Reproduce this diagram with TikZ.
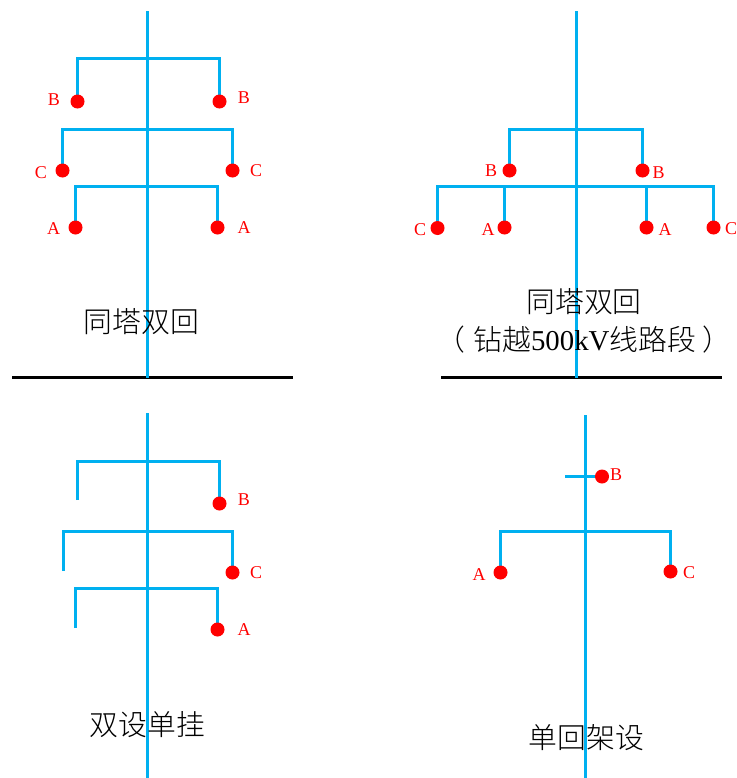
\documentclass[tikz,border=0pt]{standalone}
\usepackage{fontspec}
\setmainfont{Liberation Serif}
\newfontfamily\cjk{Noto Sans CJK SC Light}
\usetikzlibrary{backgrounds}
\definecolor{tower}{RGB}{0,176,240}
\tikzset{x=0.75pt,y=-0.75pt,
 arm/.style={draw=tower,line width=2.25pt},
 gnd/.style={draw=black,line width=2.25pt},
 dot/.style={circle,fill=red,inner sep=0pt,minimum size=10.5pt},
 lab/.style={text=red,font=\fontsize{13.5}{13.5}\selectfont,inner sep=0pt},
 captext/.style={font=\fontsize{21.6}{24}\selectfont\cjk,inner sep=0pt,align=center,text=black}}
\begin{document}
\begin{tikzpicture}
\useasboundingbox (0,0) rectangle (736,778);
% top-left
\coordinate (t1a) at (147.5,11); \coordinate (t1b) at (147.5,378);
\coordinate (g1a) at (12,377.5); \coordinate (g1b) at (293,377.5);
\node[dot] (b1l) at (77.5,101.5) {}; \node[dot] (b1r) at (219.5,101.5) {};
\node[dot] (c1l) at (62.5,170.5) {}; \node[dot] (c1r) at (232.5,170.5) {};
\node[dot] (a1l) at (75.5,227.5) {}; \node[dot] (a1r) at (217.5,227.5) {};
\node[lab] at (54,100) {B}; \node[lab] at (244,98) {B};
\node[lab] at (41,173) {C}; \node[lab] at (256,171) {C};
\node[lab] at (53.5,229) {A}; \node[lab] at (244,228) {A};
\node[captext] at (141.5,322) {同塔双回};
% top-right
\coordinate (t2a) at (576.5,11); \coordinate (t2b) at (576.5,378);
\coordinate (g2a) at (441,377.5); \coordinate (g2b) at (722,377.5);
\node[dot] (b2l) at (509.5,170.5) {}; \node[dot] (b2r) at (642.5,170.5) {};
\node[dot] (c2l) at (437.5,228) {}; \node[dot] (a2l) at (504.5,227.5) {};
\node[dot] (a2r) at (646.5,227.5) {}; \node[dot] (c2r) at (713.5,227.5) {};
\node[lab] at (491,171) {B}; \node[lab] at (658.5,173) {B};
\node[lab] at (420,230) {C}; \node[lab] at (488,230) {A};
\node[lab] at (665,229.5) {A}; \node[lab] at (731,229) {C};
\node[captext] at (584,302) {同塔双回};
\node[captext] at (584,340) {（\kern6pt 钻越{\rmfamily 500kV}线路段\kern5pt ）};
% bottom-left
\coordinate (t3a) at (147.5,413); \coordinate (t3b) at (147.5,778);
\coordinate (e3b) at (77.5,500); \coordinate (e3c) at (63.5,571); \coordinate (e3a) at (75.5,628);
\node[dot] (b3r) at (219.5,503.5) {}; \node[dot] (c3r) at (232.5,572.5) {}; \node[dot] (a3r) at (217.5,629.5) {};
\node[lab] at (244,500) {B}; \node[lab] at (256,573) {C}; \node[lab] at (244,630) {A};
\node[captext] at (147.5,725) {双设单挂};
% bottom-right
\coordinate (t4a) at (585.5,415); \coordinate (t4b) at (585.5,778);
\coordinate (e4) at (565,476.5);
\node[dot] (b4) at (602,476.5) {}; \node[dot] (a4) at (500.5,572.5) {}; \node[dot] (c4) at (670.5,571.5) {};
\node[lab] at (616,475) {B}; \node[lab] at (479,575) {A}; \node[lab] at (689,573) {C};
\node[captext] at (586.5,738) {单回架设};
% connectors
\begin{scope}[on background layer]
\draw[gnd] (g1a) -- (g1b);
\draw[arm] (t1a) -- (t1b);
\draw[arm] (b1l.center) |- (147.5,58.5) -| (b1r.center);
\draw[arm] (c1l.center) |- (147.5,129.5) -| (c1r.center);
\draw[arm] (a1l.center) |- (147.5,186.5) -| (a1r.center);
\draw[gnd] (g2a) -- (g2b);
\draw[arm] (t2a) -- (t2b);
\draw[arm] (b2l.center) |- (576.5,129.5) -| (b2r.center);
\draw[arm] (c2l.center) |- (576.5,186.5) -| (c2r.center);
\draw[arm] (a2l.center) -- (a2l.center |- c2l.north |- 0,186.5);
\draw[arm] (a2r.center) -- (a2r.center |- 0,186.5);
\draw[arm] (t3a) -- (t3b);
\draw[arm] (e3b) |- (147.5,461.5) -| (b3r.center);
\draw[arm] (e3c) |- (147.5,531.5) -| (c3r.center);
\draw[arm] (e3a) |- (147.5,588.5) -| (a3r.center);
\draw[arm] (t4a) -- (t4b);
\draw[arm] (e4) -- (b4.center);
\draw[arm] (a4.center) |- (585.5,531.5) -| (c4.center);
\end{scope}
\end{tikzpicture}
\end{document}
